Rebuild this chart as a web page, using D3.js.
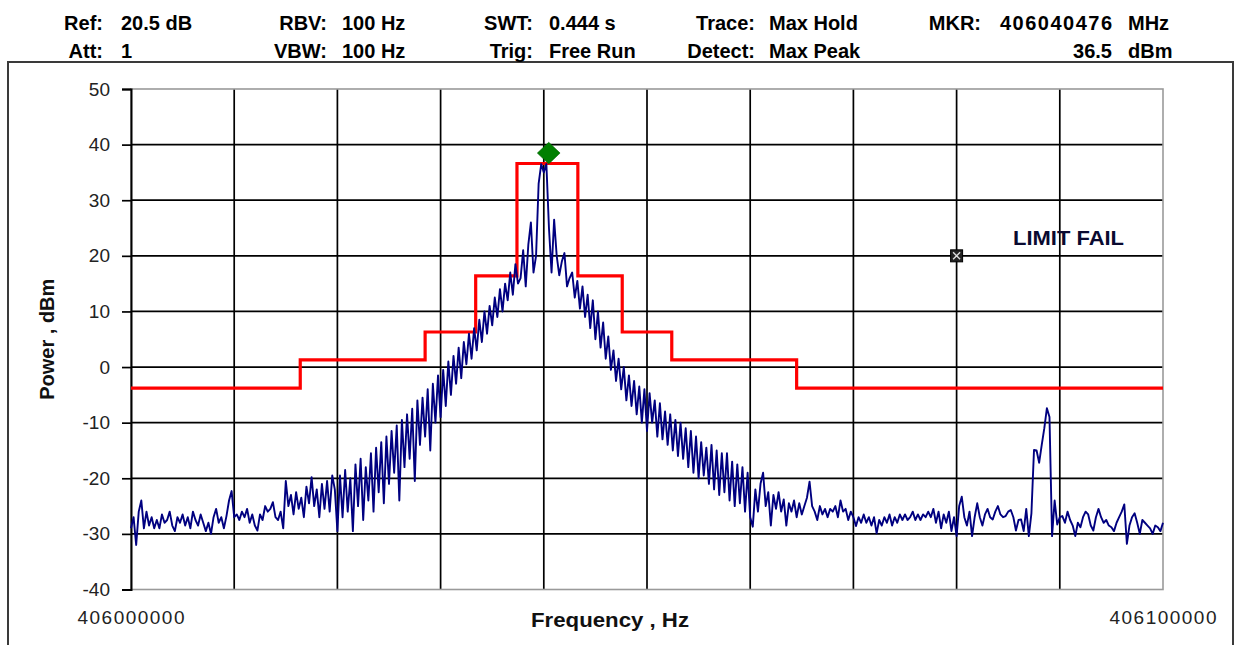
<!DOCTYPE html>
<html>
<head>
<meta charset="utf-8">
<script src="https://cdn.jsdelivr.net/npm/d3@7"></script>
<style>
  html, body { margin: 0; padding: 0; background: #fff; }
  svg { display: block; font-family: "Liberation Sans", Arial, sans-serif; }
</style>
</head>
<body>
<svg id="chart" width="1237" height="645"></svg>
<script>
// ---------------- data ----------------
const freqStart = 406000000;
const freqStop = 406100000;
const freqStep = 250; // Hz between sweep points
const traceDbm = [
  -29, -27, -32, -26, -24, -29, -26, -28.5, -27, -29,
  -27.5, -29, -26.5, -28, -27.5, -26, -28.5, -29.5, -27, -28,
  -26.5, -28.5, -27, -29, -26, -27.5, -28.5, -26.5, -28, -29.5,
  -28, -30, -27, -25.5, -28, -27, -29, -26.8, -24, -22.3,
  -27, -26.5, -27.5, -26, -27, -25.5, -28, -26.5, -28.5, -29.4,
  -26.5, -27.5, -25, -26, -25.5, -24.3, -27, -27.5, -26, -29,
  -20.5, -25, -23, -26.5, -22.5, -25.5, -23.5, -27, -21.5, -24.5,
  -19.8, -25, -22, -27, -21, -25.5, -20.5, -26, -19.5, -22,
  -29.5, -19.5, -27, -18.5, -26, -20, -29.5, -17.5, -25, -16.5,
  -27.5, -18, -24, -15.5, -26, -14.5, -22.5, -13.5, -24.5, -12.5,
  -21, -11.5, -19, -10.5, -24, -9.5, -18, -8.5, -16.5, -7.5,
  -20.5, -6, -14, -5.5, -12.5, -4, -15, -3, -10, -1.5,
  -9, -0.5, -7, 1, -5, 2, -3, 3.5, -2, 4.5,
  0.5, 6, 1.5, 7, 3, 8.5, 4.5, 10, 6, 11,
  7.5, 12.5, 9, 14, 10, 15, 12, 17, 13, 18.5,
  15, 16, 21, 14.5, 22, 26, 17, 20, 33, 36.5,
  35, 36.5, 25, 17, 26.5, 20, 16.5, 19, 20.5, 14.5,
  16, 17, 12.5, 15.5, 10.5, 14.5, 9, 13, 7, 12,
  5, 10, 3.5, 8, 1.5, 5.5, -0.5, 3, -2.5, 1.5,
  -4, 0, -6, -1.5, -7, -2.5, -8.5, -3.5, -10, -4,
  -11.5, -4.7, -10, -6, -12.5, -6.5, -13, -8, -14, -8.5,
  -15, -9.5, -16, -10, -16.5, -11, -18, -11.5, -19, -12.5,
  -20, -13.5, -19.5, -14.5, -21, -14, -22, -15, -23, -15.5,
  -22.5, -15.5, -24, -17, -25, -17.5, -24.5, -18, -26, -19,
  -27, -28.7, -22, -26, -21, -19, -25, -22.5, -28.5, -23,
  -25.5, -22.5, -26, -23.8, -28.5, -24.5, -26, -24, -27, -24.5,
  -26.5, -25, -23.5, -20.6, -25, -26, -27.5, -25, -26.5, -25.5,
  -27, -25.5, -26, -25, -27, -24, -26, -25.5, -27.5, -26,
  -27, -28.6, -27, -28, -26.5, -28, -27, -28.5, -27, -29.9,
  -27.5, -28.5, -27, -28, -26.5, -28.5, -27, -28, -26.5, -27.5,
  -26.5, -27.5, -27, -26, -27.5, -26.5, -27.5, -26.5, -27, -26,
  -27, -25.5, -28, -26, -29, -26.5, -28, -26, -29.5, -27,
  -30.4, -25, -23.3, -27, -28.5, -26, -30.4, -27, -24.5, -27,
  -28.5, -26.5, -25.5, -27, -27.4, -26, -25, -26.5, -27, -26.8,
  -26, -25.7, -27, -29.4, -27.5, -27.4, -29.5, -25.5, -30.4, -26.3,
  -14.9, -15, -17.2, -14, -11, -7.4, -9, -30.4, -24, -28.3,
  -27, -26.8, -28, -26, -27.5, -28.5, -30.4, -28, -28.8, -27,
  -26, -26.5, -28.5, -29.4, -27, -25.5, -27, -28, -27.5, -28.5,
  -28.8, -29.5, -28, -27, -26, -24.7, -31.8, -28.5, -27, -26.3,
  -28, -30, -27.5, -28, -28.5, -29, -30, -28.5, -28.8, -29.5,
  -28
];
const limitFreqs = [406000000, 406016400, 406028500, 406033400, 406037400, 406043300, 406047600, 406052400, 406064500, 406100000];
const limitDbm = [-3.8, 1.3, 6.3, 16.4, 36.6, 16.4, 6.3, 1.3, -3.8];
const yTickValues = [50, 40, 30, 20, 10, 0, -10, -20, -30, -40];
const xGridCount = 10;
const xTickLabels = ["406000000", "406100000"];
const markerFreq = 406040476;
const markerDbm = 36.5;
const limitFailFreq = 406080000;
const limitFailDbm = 20;
const limitFailText = "LIMIT FAIL";
const headerLabels = ["Ref:", "RBV:", "SWT:", "Trace:", "MKR:", "Att:", "VBW:", "Trig:", "Detect:"];
const headerValues = ["20.5 dB", "100 Hz", "0.444 s", "Max Hold", "406040476", "1", "100 Hz", "Free Run", "Max Peak"];
const markerUnits = ["MHz", "dBm"];
const markerLevelText = "36.5";
const xTitle = "Frequency , Hz";
const yTitle = "Power , dBm";

// ---------------- layout ----------------
const svg = d3.select("#chart");
const plot = { left: 131, right: 1163, top: 89, bottom: 589.5 };

const x = d3.scaleLinear().domain([freqStart, freqStop]).range([plot.left, plot.right]);
const y = d3.scaleLinear().domain([-40, 50]).range([plot.bottom, plot.top]);

// outer frame
svg.append("rect")
  .attr("x", 8).attr("y", 62).attr("width", 1225).attr("height", 600)
  .attr("fill", "none").attr("stroke", "#3a3a3a").attr("stroke-width", 2);

// header
const labelEnds = [103, 327, 533, 755, 981];
const valueStarts = [121, 342, 549, 769, 1000];
const rowBase = [30, 58];
const hdr = svg.append("g").attr("font-size", 20).attr("font-weight", "bold").attr("fill", "#000");
headerLabels.forEach((t, i) => {
  const col = i < 5 ? i : i - 5;
  const row = i < 5 ? 0 : 1;
  hdr.append("text").attr("x", labelEnds[col]).attr("y", rowBase[row])
    .attr("text-anchor", "end").text(t);
});
headerValues.forEach((t, i) => {
  const col = i < 5 ? i : i - 5;
  const row = i < 5 ? 0 : 1;
  const el = hdr.append("text").attr("x", valueStarts[col]).attr("y", rowBase[row]).text(t);
  if (t === "406040476") el.attr("textLength", 112).attr("lengthAdjust", "spacing");
});
hdr.append("text").attr("x", 1112).attr("y", rowBase[1]).attr("text-anchor", "end").text(markerLevelText);
markerUnits.forEach((t, i) => {
  hdr.append("text").attr("x", 1128).attr("y", rowBase[i]).text(t);
});

// grid
const grid = svg.append("g");
const xGridVals = d3.range(xGridCount + 1).map(i => freqStart + i * (freqStop - freqStart) / xGridCount);
grid.selectAll("line.vx").data(xGridVals.slice(1, -1)).join("line")
  .attr("x1", d => x(d)).attr("x2", d => x(d))
  .attr("y1", plot.top).attr("y2", plot.bottom)
  .attr("stroke", "#000").attr("stroke-width", 1.7);
grid.selectAll("line.hy").data(yTickValues.filter(v => v !== 50 && v !== -40)).join("line")
  .attr("x1", plot.left).attr("x2", plot.right)
  .attr("y1", d => y(d)).attr("y2", d => y(d))
  .attr("stroke", "#000").attr("stroke-width", 1.7);

// plot border (grey)
svg.append("rect")
  .attr("x", plot.left).attr("y", plot.top)
  .attr("width", plot.right - plot.left).attr("height", plot.bottom - plot.top)
  .attr("fill", "none").attr("stroke", "#9a9a9a").attr("stroke-width", 1.6);

// y axis
const yAxis = d3.axisLeft(y).tickValues(yTickValues).tickSize(9).tickPadding(12).tickFormat(d => String(d));
const gy = svg.append("g").attr("transform", `translate(${plot.left},0)`).call(yAxis);
gy.select(".domain").attr("stroke", "#000").attr("stroke-width", 2);
gy.selectAll(".tick line").attr("stroke", "#000").attr("stroke-width", 1.7);
gy.selectAll(".tick text").attr("font-size", 19).attr("fill", "#222")
  .attr("font-family", "Liberation Sans, Arial, sans-serif");

// x labels
const xLabelVals = [freqStart, freqStop];
svg.append("g").selectAll("text").data(xLabelVals).join("text")
  .attr("x", d => x(d)).attr("y", 624)
  .attr("text-anchor", "middle").attr("font-size", 19).attr("fill", "#222")
  .attr("textLength", 107).attr("lengthAdjust", "spacing")
  .text((d, i) => xTickLabels[i]);

// axis titles
svg.append("text").attr("x", 610).attr("y", 627).attr("text-anchor", "middle")
  .attr("font-size", 20.5).attr("font-weight", "bold").attr("fill", "#111")
  .attr("textLength", 158).attr("lengthAdjust", "spacingAndGlyphs").text(xTitle);
svg.append("text").attr("transform", `translate(54,${(plot.top + plot.bottom) / 2}) rotate(-90)`)
  .attr("text-anchor", "middle").attr("font-size", 20).attr("font-weight", "bold").attr("fill", "#111").text(yTitle);

// limit line
const limitPts = limitDbm.map((v, i) => [limitFreqs[i], v]);
limitPts.push([limitFreqs[limitFreqs.length - 1], limitDbm[limitDbm.length - 1]]);
svg.append("path").datum(limitPts)
  .attr("d", d3.line().x(d => x(d[0])).y(d => y(d[1])).curve(d3.curveStepAfter))
  .attr("fill", "none").attr("stroke", "#ff0000").attr("stroke-width", 3.2);

// trace
const tracePts = traceDbm.map((v, i) => [freqStart + i * freqStep, v]);
svg.append("path").datum(tracePts)
  .attr("d", d3.line().x(d => x(d[0])).y(d => y(d[1])))
  .attr("fill", "none").attr("stroke", "#000080").attr("stroke-width", 1.9)
  .attr("stroke-linejoin", "round");

// peak marker (diamond drawn just above the peak level)
svg.append("path")
  .attr("d", d3.symbol(d3.symbolDiamond2 || d3.symbolDiamond, 330)())
  .attr("transform", `translate(${x(markerFreq)},${y(markerDbm) - 11}) scale(1,0.95)`)
  .attr("fill", "#008000").attr("stroke", "#006000").attr("stroke-width", 0.6);

// limit fail marker
const lf = svg.append("g").attr("transform", `translate(${x(limitFailFreq)},${y(limitFailDbm)})`);
lf.append("rect").attr("x", -6).attr("y", -6).attr("width", 12).attr("height", 12)
  .attr("fill", "#222").attr("stroke", "#000").attr("stroke-width", 1);
lf.append("path").attr("d", "M-3.5,-3.5L3.5,3.5M-3.5,3.5L3.5,-3.5")
  .attr("stroke", "#ddd").attr("stroke-width", 1.4);
svg.append("text").attr("x", 1013).attr("y", 245)
  .attr("font-size", 20).attr("font-weight", "bold").attr("fill", "#0a0a30")
  .attr("textLength", 111).attr("lengthAdjust", "spacingAndGlyphs")
  .text(limitFailText);
</script>
</body>
</html>
